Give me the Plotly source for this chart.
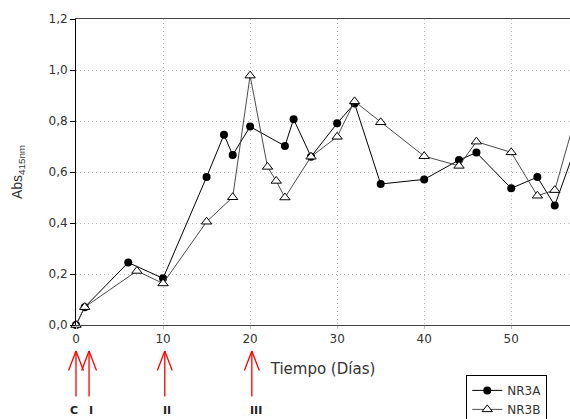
import plotly.graph_objects as go

# ---- data ----
days_a = [0, 1, 6, 10, 15, 17, 18, 20, 24, 25, 27, 30, 32, 35, 40, 44, 46, 50, 53, 55, 57]
nr3a = [0.0, 0.07, 0.245, 0.183, 0.58, 0.746, 0.667, 0.778, 0.702, 0.807, 0.66, 0.791, 0.869,
        0.553, 0.571, 0.647, 0.676, 0.536, 0.58, 0.469, 0.66]
days_b = [0, 1, 7, 10, 15, 18, 20, 22, 23, 24, 27, 30, 32, 35, 40, 44, 46, 50, 53, 55, 57]
nr3b = [0.0, 0.07, 0.212, 0.163, 0.405, 0.501, 0.978, 0.62, 0.565, 0.50, 0.66, 0.738, 0.877,
        0.795, 0.662, 0.624, 0.719, 0.677, 0.507, 0.529, 0.77]

stage_days = [0, 1.5, 10.2, 20.2]
stage_labels = ["C", "I", "II", "III"]
stage_label_shift = [-2, 2, 2, 4]

y_ticks = [0.0, 0.2, 0.4, 0.6, 0.8, 1.0, 1.2]
x_ticks = [0, 10, 20, 30, 40, 50]

FONT = "DejaVu Sans"

fig = go.Figure()
fig.add_trace(go.Scatter(
    x=days_a, y=nr3a, name="NR3A", mode="lines+markers", cliponaxis=False,
    line=dict(color="#000000", width=1),
    marker=dict(symbol="circle", size=8, color="#000000"),
))
fig.add_trace(go.Scatter(
    x=days_b, y=nr3b, name="NR3B", mode="lines+markers", cliponaxis=False,
    line=dict(color="#4a4a4a", width=1),
    marker=dict(symbol="triangle-up", size=9, color="#ffffff",
                line=dict(color="#000000", width=1)),
))

annotations = []
tip_y = -0.085
for d, lab, sh in zip(stage_days, stage_labels, stage_label_shift):
    common = dict(x=d, y=tip_y, xref="x", yref="paper", text="", showarrow=True,
                  arrowhead=0, arrowcolor="#ff0000", arrowwidth=1.3,
                  standoff=0, startstandoff=0)
    annotations.append(dict(common, ax=0, ay=47))
    annotations.append(dict(common, ax=-8, ay=21))
    annotations.append(dict(common, ax=8, ay=21))
    annotations.append(dict(x=d, y=-0.281, xref="x", yref="paper", text="<b>%s</b>" % lab,
                            showarrow=False, xshift=sh, yanchor="middle",
                            font=dict(family=FONT, size=11, color="#222222")))

fig.update_layout(
    width=570, height=419, autosize=False,
    margin=dict(l=76, r=0, t=19, b=94, autoexpand=False),
    paper_bgcolor="white", plot_bgcolor="white",
    separators=",.",
    font=dict(family=FONT, size=12, color="#333333"),
    showlegend=True,
    legend=dict(x=0.79, y=-0.163, xanchor="left", yanchor="top",
                bgcolor="white", bordercolor="#000000", borderwidth=1,
                font=dict(family=FONT, size=12, color="#333333"),
                itemwidth=30, tracegroupgap=0, entrywidth=70),
    annotations=annotations,
)
fig.update_xaxes(
    range=[0, 56.75], tickvals=x_ticks, ticktext=[str(t) for t in x_ticks],
    showline=True, linecolor="#444444", linewidth=1, mirror=True,
    ticks="outside", ticklen=3, tickcolor="#bbbbbb",
    showgrid=True, gridcolor="#b8b8b8", griddash="1px,3px", gridwidth=1,
    zeroline=False,
    title=dict(text="Tiempo (Días)", font=dict(family=FONT, size=15, color="#333333"), standoff=18),
)
fig.update_yaxes(
    range=[0, 1.2], tickvals=y_ticks, tickformat=".1f",
    showline=True, linecolor="#000000", linewidth=1, mirror=True,
    ticks="outside", ticklen=5, tickcolor="#000000",
    showgrid=True, gridcolor="#b8b8b8", griddash="1px,3px", gridwidth=1,
    zeroline=False,
    title=dict(text="Abs<sub>415nm</sub>", font=dict(family="Liberation Sans", size=14, color="#333333"),
               standoff=22),
)

fig.write_html("out.html", config={"displayModeBar": False},
               post_script="document.body.style.margin='0';document.body.style.overflow='hidden';")
